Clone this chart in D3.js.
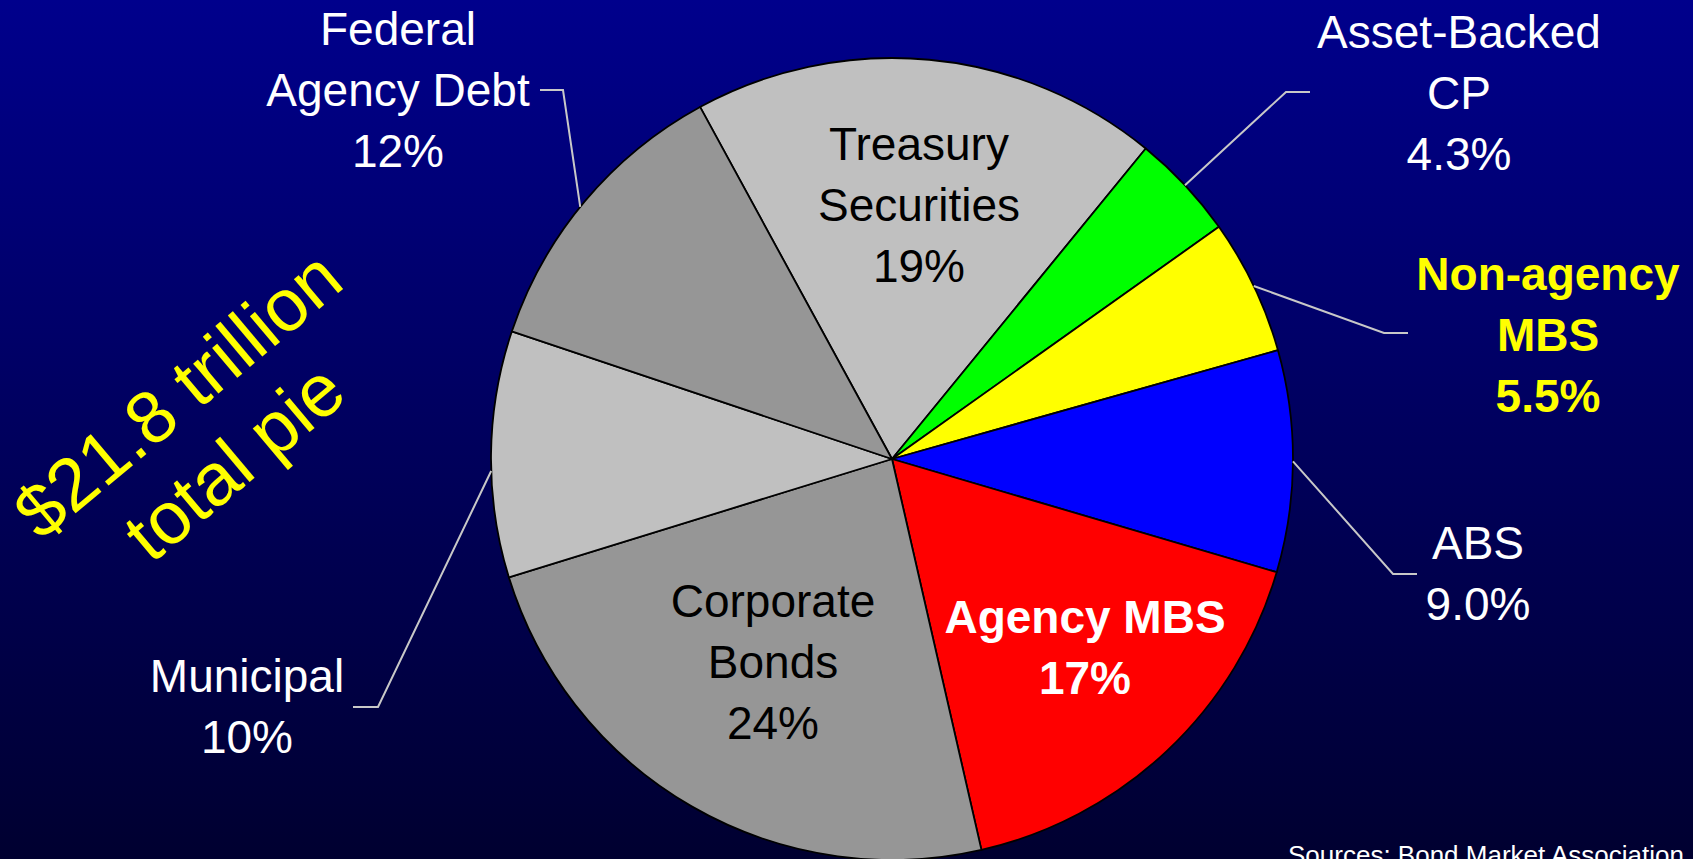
<!DOCTYPE html>
<html>
<head>
<meta charset="utf-8">
<script src="https://cdn.jsdelivr.net/npm/d3@7"></script>
<style>
  html, body { margin: 0; padding: 0; overflow: hidden; background: #000060; }
  svg { display: block; }
  text { font-family: "Liberation Sans", Arial, sans-serif; }
</style>
</head>
<body>
<svg id="chart" width="1693" height="859"></svg>
<script>
// Bond market composition, share of the total (%), clockwise from Treasury
const categories = ["Treasury Securities", "Asset-Backed CP", "Non-agency MBS", "ABS",
                    "Agency MBS", "Corporate Bonds", "Municipal", "Federal Agency Debt"];
const shares = [19, 4.3, 5.5, 9.0, 17, 24, 10, 12];
const nameLines = [["Treasury", "Securities"], ["Asset-Backed", "CP"], ["Non-agency", "MBS"], ["ABS"],
                   ["Agency MBS"], ["Corporate", "Bonds"], ["Municipal"], ["Federal", "Agency Debt"]];
const sliceColors = ["#C0C0C0", "#00FF00", "#FFFF00", "#0000FF", "#FF0000", "#969696", "#C0C0C0", "#969696"];
const totalLines = ["$21.8 trillion", "total pie"];
const sourceNote = "Sources: Bond Market Association";

const W = 1693, H = 859;
const cx = 892, cy = 459, R = 401;
const lineH = 61;

// Label placement: anchor x, first baseline y, text style, optional leader elbow/end
// (edge = small angular nudge in degrees for where the leader meets the rim)
const labelLayout = [
  { x: 919,  y: 160, fill: "#000000", weight: "normal" },
  { x: 1459, y: 48,  fill: "#FFFFFF", weight: "normal", elbow: [1286, 92],  end: [1310, 92] },
  { x: 1548, y: 290, fill: "#FFFF00", weight: "bold",   elbow: [1384, 333], end: [1408, 333] },
  { x: 1478, y: 559, fill: "#FFFFFF", weight: "normal", elbow: [1393, 574], end: [1417, 574] },
  { x: 1085, y: 633, fill: "#FFFFFF", weight: "bold" },
  { x: 773,  y: 617, fill: "#000000", weight: "normal" },
  { x: 247,  y: 692, fill: "#FFFFFF", weight: "normal", elbow: [378, 707],  end: [353, 707], edge: -2.4 },
  { x: 398,  y: 45,  fill: "#FFFFFF", weight: "normal", elbow: [563, 90],   end: [540, 90],  edge: -1 }
];

const pct = v => (v < 10 ? d3.format(".1f")(v) : d3.format(".0f")(v)) + "%";

const svg = d3.select("#chart");

// Background: vertical navy gradient
const defs = svg.append("defs");
const grad = defs.append("linearGradient")
  .attr("id", "bg").attr("x1", 0).attr("y1", 0).attr("x2", 0).attr("y2", 1);
grad.append("stop").attr("offset", "0%").attr("stop-color", "#00008C");
grad.append("stop").attr("offset", "100%").attr("stop-color", "#000030");
svg.append("rect").attr("width", W).attr("height", H).attr("fill", "url(#bg)");

// Pie
const startA = -28.6 * Math.PI / 180;
const pie = d3.pie().sort(null).value(d => d.value)
  .startAngle(startA).endAngle(startA + 2 * Math.PI);
const records = categories.map((c, i) => ({ name: c, value: shares[i], i }));
const arcs = pie(records);
const arc = d3.arc().innerRadius(0).outerRadius(R);

const g = svg.append("g").attr("transform", `translate(${cx},${cy})`);
g.selectAll("path.slice")
  .data(arcs)
  .join("path")
  .attr("class", "slice")
  .attr("d", arc)
  .attr("fill", d => sliceColors[d.data.i])
  .attr("stroke", "#000000")
  .attr("stroke-width", 1.8)
  .attr("stroke-linejoin", "round");

// Leader lines from the slice edge to the outside labels
const leaders = svg.append("g");
arcs.forEach(d => {
  const L = labelLayout[d.data.i];
  if (!L.elbow) return;
  const mid = (d.startAngle + d.endAngle) / 2 + (L.edge || 0) * Math.PI / 180;
  const p0 = [cx + R * Math.sin(mid), cy - R * Math.cos(mid)];
  leaders.append("path")
    .attr("d", d3.line()([p0, L.elbow, L.end]))
    .attr("fill", "none")
    .attr("stroke", "#C8C8C8")
    .attr("stroke-width", 2);
});

// Category labels with their shares
const labels = svg.append("g");
arcs.forEach(d => {
  const i = d.data.i;
  const L = labelLayout[i];
  const lines = nameLines[i].concat([pct(d.data.value)]);
  const t = labels.append("text")
    .attr("text-anchor", "middle")
    .attr("font-size", 46)
    .attr("font-weight", L.weight)
    .attr("fill", L.fill);
  lines.forEach((s, k) => {
    t.append("tspan").attr("x", L.x).attr("y", L.y + k * lineH).text(s);
  });
});

// Rotated total annotation
const total = svg.append("text")
  .attr("transform", "translate(194,414) rotate(-40)")
  .attr("text-anchor", "middle")
  .attr("font-size", 74)
  .attr("fill", "#FFFF00");
totalLines.forEach((s, k) => {
  total.append("tspan").attr("x", 0).attr("y", k * 88).text(s);
});

// Source note
svg.append("text")
  .attr("x", 1288).attr("y", 864)
  .attr("font-size", 26)
  .attr("fill", "#FFFFFF")
  .text(sourceNote);
</script>
</body>
</html>
